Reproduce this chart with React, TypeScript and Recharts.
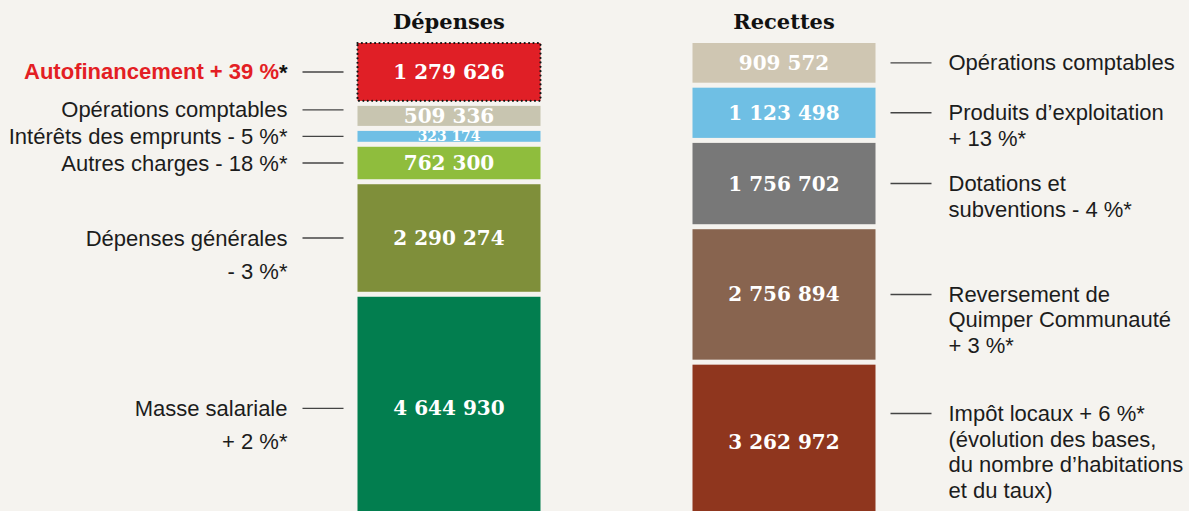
import React from 'react';
import { BarChart, Bar, XAxis, YAxis, LabelList } from 'recharts';

const categories = ['Dépenses', 'Recettes'];

// stacked from bottom to top
const depenseKeys = ['masse', 'generales', 'autres', 'interets', 'operations', 'autofinancement'];
const depenseValues = [4644930, 2290274, 762300, 323174, 509336, 1279626];
const depenseLabels = [
  ['Masse salariale', '+ 2 %*'],
  ['Dépenses générales', '- 3 %*'],
  ['Autres charges - 18 %*'],
  ['Intérêts des emprunts - 5 %*'],
  ['Opérations comptables'],
  ['Autofinancement + 39 %*'],
];

const recetteKeys = ['impots', 'reversement', 'dotations', 'produits', 'operationsR'];
const recetteValues = [3262972, 2756894, 1756702, 1123498, 909572];
const recetteLabels = [
  ['Impôt locaux + 6 %*', '(évolution des bases,', 'du nombre d’habitations', 'et du taux)'],
  ['Reversement de', 'Quimper Communauté', '+ 3 %*'],
  ['Dotations et', 'subventions - 4 %*'],
  ['Produits d’exploitation', '+ 13 %*'],
  ['Opérations comptables'],
];

const depenseColors = ['#027e4f', '#7f8f3a', '#8fbd3d', '#6fbfe5', '#c8c5b0', '#e01f26'];
const recetteColors = ['#8f361e', '#88644f', '#787878', '#6fbfe4', '#cfc6b2'];

// small nudges so the side labels of thin slices do not collide
const depenseLabelShift = [0, 0, 0, 0, -6, 0];

const data = categories.map((name, row) => {
  const r: any = { name };
  if (row === 0) depenseKeys.forEach((k, i) => (r[k] = depenseValues[i]));
  else recetteKeys.forEach((k, i) => (r[k] = recetteValues[i]));
  return r;
});

const total = Math.max(
  depenseValues.reduce((a, b) => a + b, 0),
  recetteValues.reduce((a, b) => a + b, 0)
);

const GAP = 5;
const BG = '#f5f3ef';
const SANS = '"Liberation Sans", Arial, sans-serif';
const SERIF = '"DejaVu Serif", serif';

const fmt = (v: number) => v.toLocaleString('fr-FR').replace(/[\u202f\u00a0]/g, ' ');

const TitleTick = (props: any) => (
  <text
    x={props.x}
    y={props.y}
    textAnchor="middle"
    fontFamily={SERIF}
    fontWeight="bold"
    fontSize={21}
    fill="#111"
  >
    {props.payload.value}
  </text>
);

const Segment = (props: any) => {
  const { x, y, width, height, fill, dotted } = props;
  if (!height || Math.abs(height) < 0.5) return null;
  const top = height < 0 ? y + height : y;
  const h = Math.max(Math.abs(height) - GAP, 1);
  return (
    <g>
      <rect x={x} y={top} width={width} height={h} fill={fill} />
      {dotted && (
        <rect
          x={x}
          y={top}
          width={width}
          height={h}
          fill="none"
          stroke="#111"
          strokeWidth={2.2}
          strokeDasharray="0 4.4"
          strokeLinecap="round"
        />
      )}
    </g>
  );
};

const makeLabel = (side: 'dep' | 'rec', i: number) => (props: any) => {
  const row = side === 'dep' ? 0 : 1;
  if (props.index !== row) return null;
  const vb = props.viewBox && props.viewBox.width != null ? props.viewBox : props;
  const { x, y, width, height } = vb;
  const top = height < 0 ? y + height : y;
  const h = Math.abs(height) - GAP;
  const cy = top + h / 2;
  const value = side === 'dep' ? depenseValues[i] : recetteValues[i];
  const lines = side === 'dep' ? depenseLabels[i] : recetteLabels[i];
  const highlight = side === 'dep' && depenseKeys[i] === 'autofinancement';

  let textBlock;
  let lineX1;
  let lineX2;
  let lineY;
  if (side === 'dep') {
    lineY = cy + depenseLabelShift[i];
    lineX1 = x - 55;
    lineX2 = x - 14;
    textBlock = lines.map((t, k) => (
      <text
        key={k}
        x={x - 70}
        y={lineY + k * 33}
        textAnchor="end"
        dominantBaseline="central"
        fontFamily={SANS}
        fontSize={22}
        fontWeight={highlight ? 'bold' : 'normal'}
        fill={highlight ? '#e31e24' : '#1c1c1c'}
      >
        {highlight ? (
          <>
            {t.slice(0, -1)}
            <tspan fill="#111">{t.slice(-1)}</tspan>
          </>
        ) : (
          t
        )}
      </text>
    ));
  } else {
    const right = x + width;
    lineX1 = right + 15;
    lineX2 = right + 56;
    lineY = Math.min(cy, 490 - (lines.length - 1) * 25.5);
    textBlock = lines.map((t, k) => (
      <text
        key={k}
        x={right + 73}
        y={lineY + k * 25.5}
        textAnchor="start"
        dominantBaseline="central"
        fontFamily={SANS}
        fontSize={22}
        fill="#1c1c1c"
      >
        {t}
      </text>
    ));
  }

  return (
    <g>
      <text
        x={x + width / 2}
        y={cy}
        textAnchor="middle"
        dominantBaseline="central"
        fontFamily={SERIF}
        fontWeight="bold"
        fontSize={Math.min(20, h + 3)}
        fill="#ffffff"
      >
        {fmt(value)}
      </text>
      <line x1={lineX1} x2={lineX2} y1={lineY} y2={lineY} stroke="#444" strokeWidth={1.4} />
      {textBlock}
    </g>
  );
};

export default function App() {
  return (
    <div style={{ width: 1189, height: 511, overflow: 'hidden', background: BG }}>
      <style>{`body{margin:0;background:${BG}}`}</style>
      <BarChart
        width={1189}
        height={525}
        data={data}
        margin={{ top: 0, right: 237.5, bottom: 0, left: 281.5 }}
        barSize={183}
      >
        <XAxis
          dataKey="name"
          orientation="top"
          height={43}
          axisLine={false}
          tickLine={false}
          tickSize={0}
          tickMargin={14}
          interval={0}
          tick={<TitleTick />}
        />
        <YAxis hide domain={[0, total]} />
        {depenseKeys.map((k, i) => (
          <Bar
            key={k}
            dataKey={k}
            stackId="s"
            fill={depenseColors[i]}
            isAnimationActive={false}
            shape={(p: any) => <Segment {...p} dotted={k === 'autofinancement'} />}
          >
            <LabelList content={makeLabel('dep', i)} />
          </Bar>
        ))}
        {recetteKeys.map((k, i) => (
          <Bar
            key={k}
            dataKey={k}
            stackId="s"
            fill={recetteColors[i]}
            isAnimationActive={false}
            shape={(p: any) => <Segment {...p} />}
          >
            <LabelList content={makeLabel('rec', i)} />
          </Bar>
        ))}
      </BarChart>
    </div>
  );
}
